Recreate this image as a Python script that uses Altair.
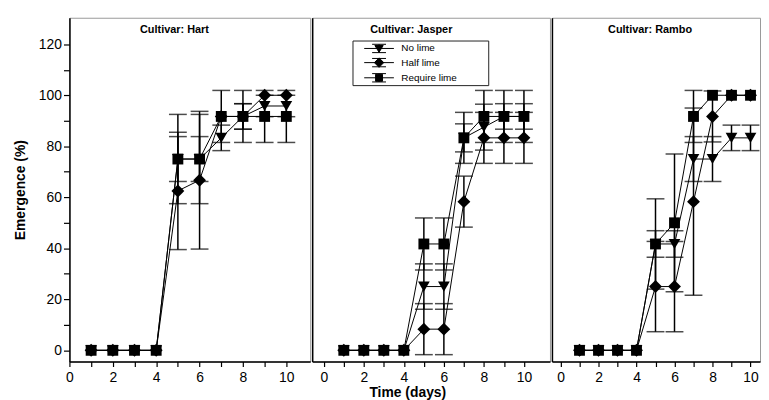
import altair as alt
import pandas as pd

# ---------------- data ----------------
days = [1, 2, 3, 4, 5, 6, 7, 8, 9, 10]
treatments = ["No lime", "Half lime", "Require lime"]
cultivars = ["Hart", "Jasper", "Rambo"]

hart_no_lime = [0, 0, 0, 0, 75, 75, 83.3, 91.7, 95.8, 95.8]
hart_no_lime_se = [0, 0, 0, 0, 8.8, 8.8, 5, 5, 4.2, 4.2]
hart_half_lime = [0, 0, 0, 0, 62.5, 66.7, 91.7, 91.7, 100, 100]
hart_half_lime_se = [0, 0, 0, 0, 23, 27, 0, 5, 0, 0]
hart_require_lime = [0, 0, 0, 0, 75, 75, 91.7, 91.7, 91.7, 91.7]
hart_require_lime_se = [0, 0, 0, 0, 17.5, 17.5, 10.2, 10.2, 10.2, 10.2]

jasper_no_lime = [0, 0, 0, 0, 25, 25, 83.3, 87.5, 91.7, 91.7]
jasper_no_lime_se = [0, 0, 0, 0, 8.9, 8.9, 5.5, 9, 5, 5]
jasper_half_lime = [0, 0, 0, 0, 8.3, 8.3, 58.3, 83.3, 83.3, 83.3]
jasper_half_lime_se = [0, 0, 0, 0, 10, 10, 10, 10, 10, 10]
jasper_require_lime = [0, 0, 0, 0, 41.7, 41.7, 83.3, 91.7, 91.7, 91.7]
jasper_require_lime_se = [0, 0, 0, 0, 10.2, 10.2, 10, 10.2, 10.2, 10.2]

rambo_no_lime = [0, 0, 0, 0, 41.7, 41.7, 75, 75, 83.3, 83.3]
rambo_no_lime_se = [0, 0, 0, 0, 5.2, 5.2, 8.8, 8.8, 5, 5]
rambo_half_lime = [0, 0, 0, 0, 25, 25, 58.3, 91.7, 100, 100]
rambo_half_lime_se = [0, 0, 0, 0, 17.7, 17.7, 36.7, 10, 0, 0]
rambo_require_lime = [0, 0, 0, 0, 41.7, 50, 91.7, 100, 100, 100]
rambo_require_lime_se = [0, 0, 0, 0, 17.7, 27, 10.2, 0, 0, 0]

x_ticks = [0, 1, 2, 3, 4, 5, 6, 7, 8, 9, 10]
y_ticks = [0, 10, 20, 30, 40, 50, 60, 70, 80, 90, 100, 110, 120]

series = {
    ("Hart", "No lime"): (hart_no_lime, hart_no_lime_se),
    ("Hart", "Half lime"): (hart_half_lime, hart_half_lime_se),
    ("Hart", "Require lime"): (hart_require_lime, hart_require_lime_se),
    ("Jasper", "No lime"): (jasper_no_lime, jasper_no_lime_se),
    ("Jasper", "Half lime"): (jasper_half_lime, jasper_half_lime_se),
    ("Jasper", "Require lime"): (jasper_require_lime, jasper_require_lime_se),
    ("Rambo", "No lime"): (rambo_no_lime, rambo_no_lime_se),
    ("Rambo", "Half lime"): (rambo_half_lime, rambo_half_lime_se),
    ("Rambo", "Require lime"): (rambo_require_lime, rambo_require_lime_se),
}

rows = []
for (cv, tr), (means, ses) in series.items():
    for d, m, s in zip(days, means, ses):
        rows.append({"cultivar": cv, "treatment": tr, "day": d, "mean": m,
                     "err": s, "lo": m - s, "hi": m + s})
df = pd.DataFrame(rows)

FONT = "Liberation Sans"
Y_DOMAIN = [-4.4, 130.4]
HEIGHT = 347

shapes = {"No lime": ("triangle-down", 140),
          "Half lime": ("diamond", 170),
          "Require lime": ("square", 120)}

# legend glyphs: line + error bar + marker (custom paths, units of r = 7px)
LINE = "M-2.14,0L2.14,0"
EBAR = "M0,-0.6L0,0.6M-1,-0.6L1,-0.6M-1,0.6L1,0.6"
legend_paths = [
    LINE + EBAR + "M-0.6,-0.42L0.6,-0.42L0,0.55Z",
    LINE + EBAR + "M-0.68,0L0,-0.68L0.68,0L0,0.68Z",
    LINE + EBAR + "M-0.5,-0.5L0.5,-0.5L0.5,0.5L-0.5,0.5Z",
]


def panel(cv, width, xdom, show_y, title_px, x_title=False, legend=False):
    d = df[df.cultivar == cv]
    xa = dict(values=x_ticks,
              labelExpr="datum.value % 2 == 0 ? datum.label : ''",
              tickSize=5, labelFlush=False, labelPadding=4,
              domainWidth=1.5, tickWidth=1.2, grid=False)
    if x_title:
        xa.update(title="Time (days)", titleX=96, titlePadding=1)
    else:
        xa.update(title=None)
    xaxis = alt.Axis(**xa)
    xscale = alt.Scale(domain=xdom, nice=False, zero=False)
    yscale = alt.Scale(domain=Y_DOMAIN, nice=False, zero=False)
    if show_y:
        yaxis = alt.Axis(values=y_ticks,
                         labelExpr="datum.value % 20 == 0 ? datum.label : ''",
                         tickSize=6, tickWidth=1.2, domainWidth=1.5,
                         labelPadding=2, title="Emergence (%)",
                         titlePadding=11, grid=False)
    else:
        yaxis = alt.Axis(labels=False, ticks=False, title=None,
                         domainWidth=1.5, grid=False)

    X = alt.X("day:Q", scale=xscale, axis=xaxis)
    base = alt.Chart(d)
    eb = base.transform_filter(alt.datum.err > 0)

    rules = eb.mark_rule(color="black", strokeWidth=1.5).encode(
        x=X, y=alt.Y("lo:Q", scale=yscale, axis=yaxis), y2="hi:Q")
    cap_lo = eb.mark_tick(color="black", orient="horizontal", size=18,
                          thickness=1.5).encode(
        x=X, y=alt.Y("lo:Q", scale=yscale, axis=yaxis))
    cap_hi = eb.mark_tick(color="black", orient="horizontal", size=18,
                          thickness=1.5).encode(
        x=X, y=alt.Y("hi:Q", scale=yscale, axis=yaxis))
    lines = base.mark_line(color="black", strokeWidth=1).encode(
        x=X, y=alt.Y("mean:Q", scale=yscale, axis=yaxis),
        detail="treatment:N")
    layers = [rules, cap_lo, cap_hi, lines]
    for tr in treatments:
        shp, sz = shapes[tr]
        layers.append(
            base.transform_filter(alt.datum.treatment == tr)
            .mark_point(shape=shp, size=sz, filled=True, color="black",
                        opacity=1)
            .encode(x=X, y=alt.Y("mean:Q", scale=yscale, axis=yaxis)))
    title = alt.Chart(pd.DataFrame({"t": ["Cultivar: " + cv]})).mark_text(
        font=FONT, fontSize=11, fontWeight="bold", color="black",
        align="center", baseline="middle").encode(
        text="t:N", x=alt.value(title_px), y=alt.value(12))
    layers.append(title)
    if legend:
        leg_df = pd.DataFrame({"treatment": treatments, "day": [5, 5, 5],
                               "mean": [60, 60, 60]})
        pad = "\u00a0" * 11 + "\u200b"
        leg = alt.Chart(leg_df).mark_point(
            filled=True, color="black", opacity=0).encode(
            x=X, y=alt.Y("mean:Q", scale=yscale, axis=yaxis),
            stroke=alt.value("black"),
            strokeWidth=alt.value(1),
            shape=alt.Shape(
                "treatment:N", sort=treatments,
                scale=alt.Scale(domain=treatments, range=legend_paths),
                legend=alt.Legend(
                    title=None, orient="none", legendX=40.7, legendY=23,
                    symbolSize=196, symbolOpacity=1,
                    symbolStrokeWidth=1, symbolOffset=18.8,
                    labelOffset=15, labelFont=FONT, labelFontSize=10,
                    labelColor="black", rowPadding=0.3, padding=0.5,
                    strokeColor="#222",
                    labelExpr="datum.label + '" + pad + "'")))
        layers.append(leg)
    return alt.layer(*layers).properties(width=width, height=HEIGHT)


p1 = panel("Hart", 243, [0, 11.1], True, 106)
p2 = panel("Jasper", 240, [-0.58, 11.3], False, 100, x_title=True,
           legend=True)
p3 = panel("Rambo", 210, [-0.45, 10.5], False, 99)

chart = (
    alt.hconcat(p1, p2, p3, spacing=0)
    .resolve_scale(shape="independent")
    .properties(padding={"left": 5, "top": 7, "right": 0, "bottom": 0})
    .configure_view(stroke="#999999", strokeWidth=1)
    .configure_axis(labelFont=FONT, labelFontSize=14, labelColor="black",
                    tickColor="black", domainColor="black",
                    titleFont=FONT, titleFontSize=14, titleFontWeight="bold",
                    titleColor="black")
    .configure_concat(spacing=0)
)

chart.save("out.html", embed_options={"renderer": "svg", "actions": False})
